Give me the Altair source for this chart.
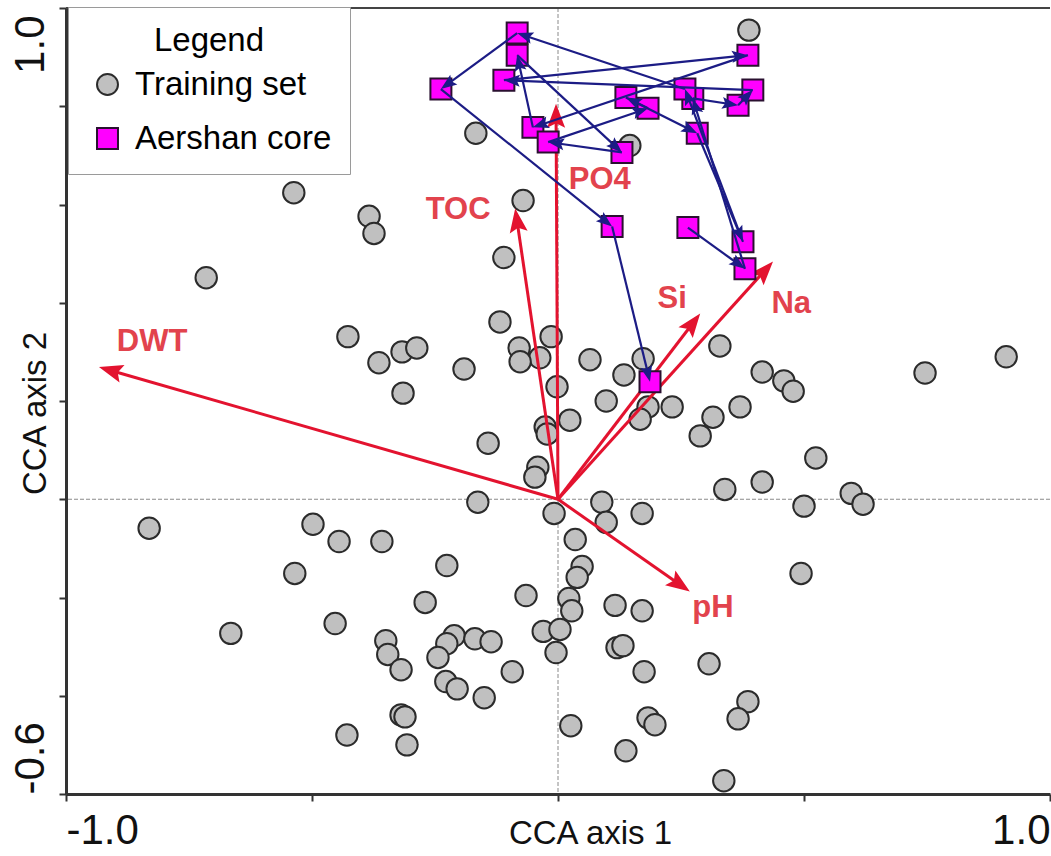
import numpy as np
import pandas as pd
import altair as alt

SANS = "Liberation Sans, Arial, sans-serif"
RED = "#e3132f"
LABEL_RED = "#e2434d"
NAVY = "#1c1c85"

# Training-set site scores (CCA axis 1, CCA axis 2)
train_x = [-0.537, -0.384, -0.374, -0.715, -0.427, -0.364, -0.317, -0.287, -0.315, -0.191,
           -0.142, -0.163, -0.118, -0.079, -0.014, -0.037, -0.077, 0.065, -0.002, 0.134,
           0.173, 0.098, 0.183, 0.167, 0.232, 0.329, 0.024, -0.026, -0.022, -0.041,
           -0.047, 0.089, -0.008, 0.171, 0.315, 0.370, 0.289, 0.415, 0.459, 0.478,
           0.339, 0.415, 0.500, 0.596, 0.620, 0.524, 0.746, 0.911, 0.494, -0.831,
           -0.498, -0.445, -0.358, -0.535, -0.226, -0.270, -0.065, -0.665, -0.453, -0.350,
           -0.346, -0.319, -0.211, -0.226, -0.244, -0.169, -0.136, -0.228, -0.205, -0.150,
           -0.093, -0.030, -0.004, 0.004, -0.319, -0.311, -0.429, -0.307, 0.098, 0.035,
           0.049, 0.039, 0.022, 0.028, 0.116, 0.171, 0.120, 0.132, 0.175, 0.307,
           0.386, 0.366, 0.026, 0.183, 0.197, 0.138, 0.337, 0.388, -0.167, 0.146,
           -0.071, -0.110]
train_y = [0.624, 0.576, 0.541, 0.451, 0.331, 0.278, 0.300, 0.308, 0.216, 0.265,
           0.114, -0.006, 0.361, 0.308, 0.331, 0.288, 0.280, 0.284, 0.229, 0.253,
           0.286, 0.200, 0.188, 0.163, 0.188, 0.312, 0.161, 0.147, 0.133, 0.065,
           0.045, -0.006, -0.029, -0.029, 0.167, 0.188, 0.129, 0.259, 0.241, 0.220,
           0.020, 0.035, -0.014, 0.012, -0.010, 0.084, 0.257, 0.290, -0.151, -0.059,
           -0.051, -0.086, -0.086, -0.151, -0.135, -0.210, -0.196, -0.273, -0.253, -0.288,
           -0.316, -0.347, -0.278, -0.294, -0.322, -0.284, -0.290, -0.371, -0.386, -0.404,
           -0.351, -0.269, -0.312, -0.265, -0.439, -0.443, -0.480, -0.500, -0.047, -0.082,
           -0.137, -0.159, -0.202, -0.227, -0.216, -0.227, -0.302, -0.298, -0.351, -0.335,
           -0.412, -0.447, -0.461, -0.445, -0.459, -0.512, -0.573, 0.955, 0.745, 0.720,
           0.608, 0.492]

# Aershan core samples, passively projected, in stratigraphic order
core_x = [0.264, 0.380, 0.274, 0.366, 0.396, -0.110, 0.386, -0.051, -0.083, 0.130,
          -0.020, 0.183, 0.138, 0.283, 0.376, 0.258, -0.083, -0.238, 0.110, 0.187]
core_y = [0.553, 0.469, 0.816, 0.802, 0.833, 0.853, 0.904, 0.757, 0.904, 0.706,
          0.727, 0.796, 0.818, 0.745, 0.524, 0.835, 0.949, 0.835, 0.555, 0.239]

# Environmental variables: biplot arrow tips and label anchors
env_names = ["DWT", "TOC", "PO4", "Si", "Na", "pH"]
env_x = [-0.933, -0.087, -0.004, 0.289, 0.437, 0.268]
env_y = [0.269, 0.592, 0.805, 0.378, 0.484, -0.188]
env_label_x = [-0.825, -0.203, 0.085, 0.232, 0.474, 0.315]
env_label_y = [0.320, 0.588, 0.649, 0.408, 0.398, -0.222]

WIDTH, HEIGHT = 984, 786
X_DOMAIN = [-1.0, 1.0]
Y_DOMAIN = [-0.6, 1.0]
PX_X = WIDTH / (X_DOMAIN[1] - X_DOMAIN[0])
PX_Y = HEIGHT / (Y_DOMAIN[1] - Y_DOMAIN[0])

HEAD_PATH = "M0,-1L0.6,0.6L0,0.3L-0.6,0.6Z"


def arrow_frames(x0, y0, x1, y1, head_size):
    """Shaft segments ending at the arrowhead centre, plus rotated heads."""
    x0, y0, x1, y1 = map(lambda a: np.asarray(a, dtype=float), (x0, y0, x1, y1))
    r = np.sqrt(head_size) / 2.0
    dxp = (x1 - x0) * PX_X
    dyp = (y1 - y0) * PX_Y
    length = np.hypot(dxp, dyp)
    ux, uy = dxp / length, dyp / length
    hx = x1 - ux * r / PX_X
    hy = y1 - uy * r / PX_Y
    ang = (np.degrees(np.arctan2(dxp, dyp)) + 360.0) % 360.0
    shafts = pd.DataFrame({"x": x0, "y": y0, "x2": hx, "y2": hy})
    heads = pd.DataFrame({"x": hx, "y": hy, "ang": ang})
    return shafts, heads


x_enc = alt.X(
    "x:Q",
    scale=alt.Scale(domain=X_DOMAIN, nice=False, zero=False),
    title="CCA axis 1",
    axis=alt.Axis(
        values=[-1.0, -0.5, 0.0, 0.5, 1.0],
        labelExpr="datum.value > 0.99 ? '1.0' : (datum.value < -0.99 ? '-1.0' : '')",
        labelFlush=True,
        labelOverlap=False,
        labelAngle=0,
        labelPadding=9,
        grid=False,
        titleX=524,
        titleY=49,
        titleBaseline="alphabetic",
        titleAlign="center",
    ),
)
y_enc = alt.Y(
    "y:Q",
    scale=alt.Scale(domain=Y_DOMAIN, nice=False, zero=False),
    title="CCA axis 2",
    axis=alt.Axis(
        values=[-0.6, -0.4, -0.2, 0.0, 0.2, 0.4, 0.6, 0.8, 1.0],
        labelExpr="datum.value > 0.99 ? '1.0' : (datum.value < -0.59 ? '-0.6' : '')",
        labelAngle=270,
        labelAlign={"condition": {"test": "datum.value > 0.5", "value": "right"}, "value": "left"},
        labelOffset={"condition": {"test": "datum.value > 0.5", "value": 7}, "value": 0},
        labelBaseline="alphabetic",
        labelPadding=16,
        labelFlush=False,
        labelOverlap=False,
        grid=False,
        titleAngle=270,
        titleX=-21,
        titleY=405,
        titleBaseline="alphabetic",
        titleAlign="center",
    ),
)

set_domain = ["Training set", "Aershan core"]
legend = alt.Legend(
    title="Legend",
    orient="none",
    legendX=2,
    legendY=-1,
    titleFont=SANS,
    titleFontSize=33,
    titleFontWeight="normal",
    titleColor="black",
    titleAnchor="middle",
    titlePadding=10,
    labelFont=SANS,
    labelFontSize=33,
    labelColor="black",
    labelLimit=0,
    labelOffset=11,
    symbolSize=440,
    symbolOffset=5,
    symbolStrokeWidth=2,
    rowPadding=20,
    padding=18,
    strokeColor="#9a9a9a",
    fillColor="white",
    cornerRadius=0,
)
shape_enc = alt.Shape("set:N", scale=alt.Scale(domain=set_domain, range=["circle", "square"]), legend=legend)
fill_enc = alt.Fill("set:N", scale=alt.Scale(domain=set_domain, range=["#c0c0c0", "#ff00ff"]), legend=legend)
stroke_enc = alt.Stroke("set:N", scale=alt.Scale(domain=set_domain, range=["#2b2b2b", "#2a1030"]), legend=legend)

origin = pd.DataFrame({"x": [0.0], "y": [0.0]})

vline = alt.Chart(origin).mark_rule(color="#8a8a8a", strokeWidth=1, strokeDash=[4, 2]).encode(x=x_enc)
hline = alt.Chart(origin).mark_rule(color="#8a8a8a", strokeWidth=1, strokeDash=[4, 2]).encode(y=y_enc)
top_line = alt.Chart(origin).mark_rule(color="#444444", strokeWidth=2).encode(y=alt.value(0))

train_df = pd.DataFrame({"x": train_x, "y": train_y, "set": "Training set"})
circles = alt.Chart(train_df).mark_point(filled=True, size=460, opacity=1, strokeWidth=2).encode(
    x=x_enc, y=y_enc, shape=shape_enc, fill=fill_enc, stroke=stroke_enc,
)

env_shafts, env_heads = arrow_frames(np.zeros(len(env_x)), np.zeros(len(env_y)), env_x, env_y, 900)
red_lines = alt.Chart(env_shafts).mark_rule(color=RED, strokeWidth=3).encode(
    x=x_enc, y=y_enc, x2="x2:Q", y2="y2:Q"
)
red_heads = alt.Chart(env_heads).mark_point(
    shape=HEAD_PATH, filled=True, size=900, color=RED, opacity=1
).encode(x=x_enc, y=y_enc, angle=alt.Angle("ang:Q", scale=None))

core_df = pd.DataFrame({"x": core_x, "y": core_y, "set": "Aershan core"})
squares = alt.Chart(core_df).mark_point(filled=True, size=440, opacity=1, strokeWidth=2).encode(
    x=x_enc, y=y_enc, shape=shape_enc, fill=fill_enc, stroke=stroke_enc,
)

core_shafts, core_heads = arrow_frames(core_x[:-1], core_y[:-1], core_x[1:], core_y[1:], 400)
blue_lines = alt.Chart(core_shafts).mark_rule(color=NAVY, strokeWidth=2.2).encode(
    x=x_enc, y=y_enc, x2="x2:Q", y2="y2:Q"
)
blue_heads = alt.Chart(core_heads).mark_point(
    shape=HEAD_PATH, filled=True, size=400, color=NAVY, opacity=1
).encode(x=x_enc, y=y_enc, angle=alt.Angle("ang:Q", scale=None))

label_df = pd.DataFrame({"x": env_label_x, "y": env_label_y, "name": env_names})
labels = alt.Chart(label_df).mark_text(
    font=SANS, fontSize=31, fontWeight="bold", color=LABEL_RED, align="center", baseline="middle"
).encode(x=x_enc, y=y_enc, text="name:N")

chart = (
    alt.layer(vline, hline, top_line, circles, red_lines, red_heads, squares,
              blue_lines, blue_heads, labels)
    .properties(
        width=WIDTH,
        height=HEIGHT,
        padding={"left": 66, "top": 8, "right": 1, "bottom": 62},
        autosize=alt.AutoSizeParams(type="none"),
        background="white",
    )
    .configure_view(stroke=None)
    .configure_axis(
        domainColor="#333333",
        domainWidth=3,
        tickColor="#333333",
        tickWidth=2,
        tickSize=7,
        labelFont=SANS,
        labelFontSize=42,
        labelColor="#111111",
        titleFont=SANS,
        titleFontSize=33,
        titleFontWeight="normal",
        titleColor="#111111",
    )
)

chart.save("out.html", embed_options={"renderer": "svg", "actions": False})
